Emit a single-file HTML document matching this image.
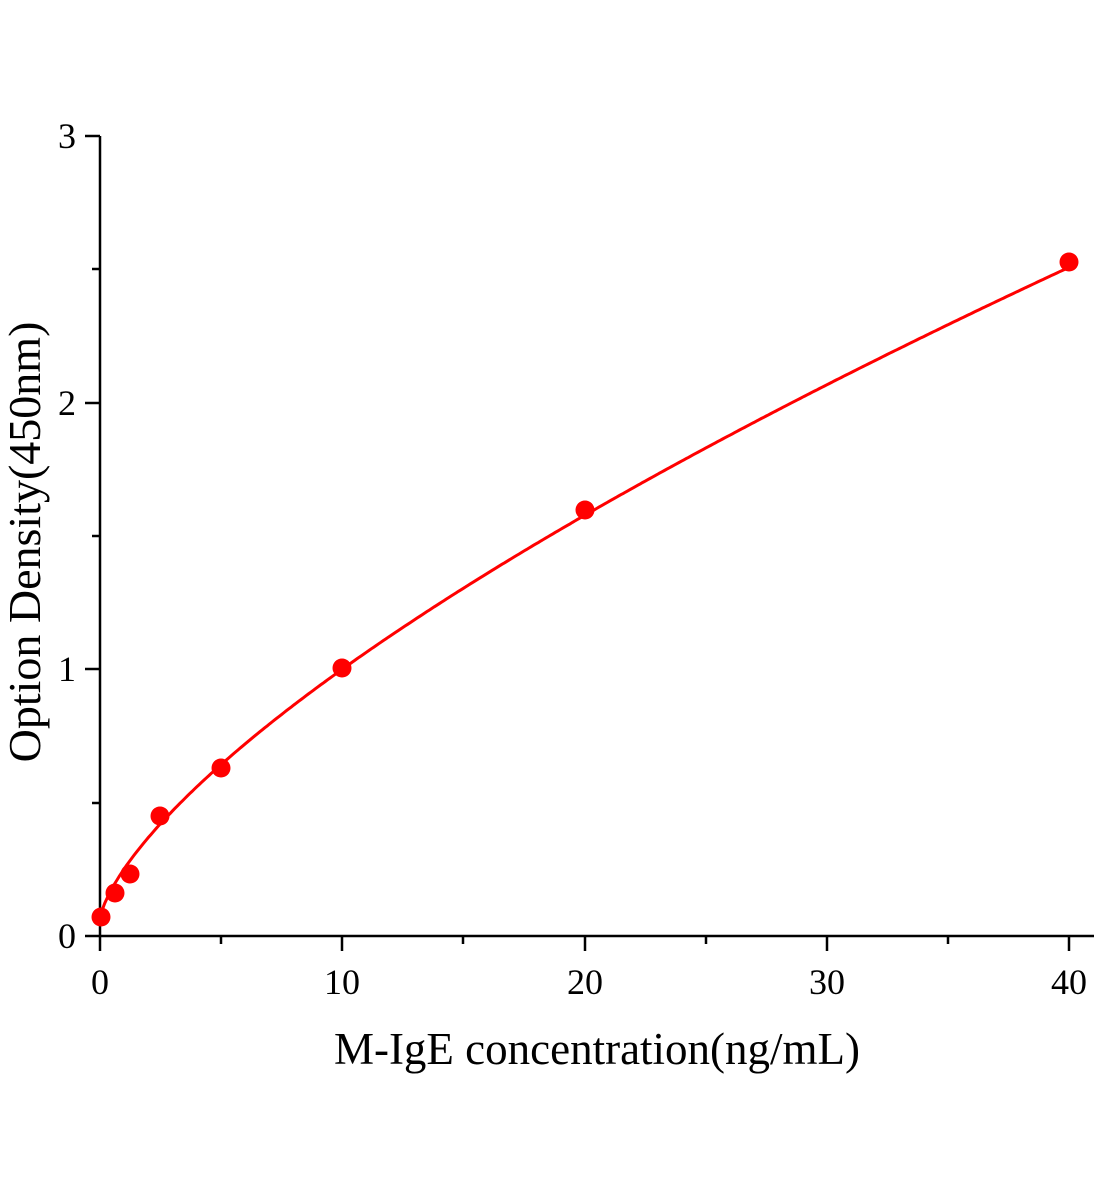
<!DOCTYPE html>
<html><head><meta charset="utf-8"><style>body{margin:0;background:#fff}svg{display:block}text{font-family:"Liberation Serif",serif;fill:#000}</style></head>
<body>
<svg id="s" width="1104" height="1200" viewBox="0 0 1104 1200" xmlns="http://www.w3.org/2000/svg">
<g stroke="#000" stroke-width="2.5" fill="none">
<line x1="100" y1="136" x2="100" y2="937"/>
<line x1="99" y1="936" x2="1094" y2="936"/>
<line x1="85" y1="936" x2="100" y2="936"/>
<line x1="85" y1="669" x2="100" y2="669"/>
<line x1="85" y1="403" x2="100" y2="403"/>
<line x1="85" y1="136" x2="100" y2="136"/>
<line x1="92" y1="803" x2="100" y2="803"/>
<line x1="92" y1="536" x2="100" y2="536"/>
<line x1="92" y1="269" x2="100" y2="269"/>
<line x1="100" y1="936" x2="100" y2="951"/>
<line x1="342" y1="936" x2="342" y2="951"/>
<line x1="585" y1="936" x2="585" y2="951"/>
<line x1="827" y1="936" x2="827" y2="951"/>
<line x1="1069" y1="936" x2="1069" y2="951"/>
<line x1="221" y1="936" x2="221" y2="944"/>
<line x1="463" y1="936" x2="463" y2="944"/>
<line x1="706" y1="936" x2="706" y2="944"/>
<line x1="948" y1="936" x2="948" y2="944"/>
</g>
<g font-size="36" text-anchor="end">
<text x="76" y="948">0</text><text x="76" y="681">1</text><text x="76" y="415">2</text><text x="76" y="148">3</text>
</g>
<g font-size="36" text-anchor="middle">
<text x="100" y="994">0</text><text x="342" y="994">10</text><text x="585" y="994">20</text><text x="827" y="994">30</text><text x="1069" y="994">40</text>
</g>
<text x="597" y="1064" font-size="45" text-anchor="middle">M-IgE concentration(ng/mL)</text>
<text transform="translate(40,542) rotate(-90)" font-size="46" text-anchor="middle">Option Density(450nm)</text>
<path id="c" fill="none" stroke="#f00" stroke-width="3"/>
<g fill="#f00">
<circle cx="101" cy="917" r="9.5"/><circle cx="115" cy="893" r="9.5"/><circle cx="130" cy="874" r="9.5"/>
<circle cx="160" cy="816" r="9.5"/><circle cx="221" cy="768" r="9.5"/><circle cx="342" cy="668" r="9.5"/>
<circle cx="585" cy="510" r="9.5"/><circle cx="1069" cy="262" r="9.5"/>
</g>
</svg>
<script>
var d="";for(var i=0;i<=400;i++){var x=i/10;var y=0.06+0.192*Math.pow(x,0.69);d+=(i?"L":"M")+(100+x*24.225).toFixed(1)+","+(936-y*266.67).toFixed(1);}
document.getElementById("c").setAttribute("d",d);
</script>
</body></html>
